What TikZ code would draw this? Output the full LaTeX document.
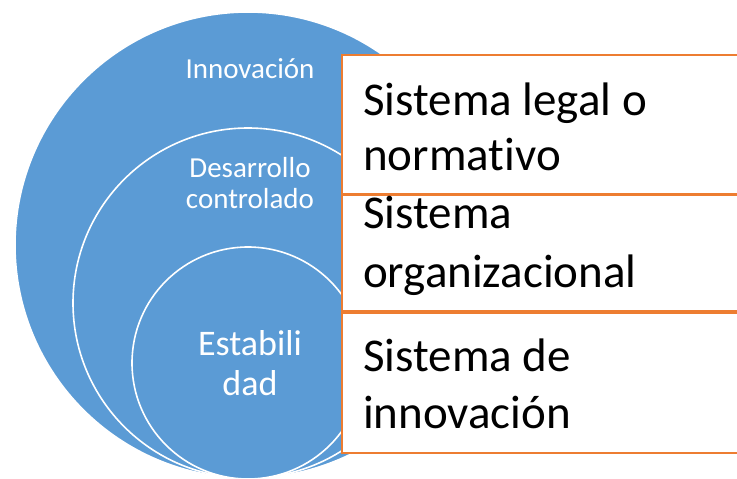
\documentclass[tikz,border=0pt]{standalone}
\usepackage{fontspec}
\setmainfont{Carlito}[Ligatures={NoCommon}]
\definecolor{ringblue}{HTML}{5B9BD5}
\definecolor{boxorange}{HTML}{ED7D31}
\tikzset{
  ring/.style={fill=ringblue,draw=white,line width=1.6pt},
  sysbox/.style={fill=white,draw=boxorange,line width=2pt},
  ringtext/.style={text=white,inner sep=0pt,anchor=base},
  boxtext/.style={inner sep=0pt,anchor=base west,font=\fontsize{47}{55}\selectfont}
}
\begin{document}
\begin{tikzpicture}[x=1pt,y=-1pt]
    \clip (0,0) rectangle (737,479);
    \fill[white] (0,0) rectangle (737,479);

    % circles
    \draw[ring] (248,245) circle (233);
    \draw[ring] (248,303) circle (175);
    \draw[ring] (248,363) circle (116);

    \node[ringtext,font=\fontsize{29}{31}\selectfont] (innov) at (250,78) {Innovación};
    \node[ringtext,font=\fontsize{29}{31}\selectfont] (desa) at (250,177) {Desarrollo};
    \node[ringtext,font=\fontsize{29}{31}\selectfont] (contr) at (250,208) {controlado};
    \node[ringtext,font=\fontsize{36}{40}\selectfont] (estab) at (250,355) {Estabili};
    \node[ringtext,font=\fontsize{36}{40}\selectfont] (dad) at (250,395) {dad};

    % boxes
    \draw[sysbox] (342,55) rectangle (760,194);
    \draw[sysbox] (342,195) rectangle (760,311);
    \draw[sysbox] (342,313) rectangle (760,453);

    \node[boxtext] (legal) at (363,115) {Sistema legal o};
    \node[boxtext] (norma) at (363,170) {normativo};
    \node[boxtext] (sist) at (363,228) {Sistema};
    \node[boxtext] (organ) at (363,287) {organizacional};
    \node[boxtext] (sistde) at (363,371) {Sistema de};
    \node[boxtext] (innovs) at (363,428) {innovación};
\end{tikzpicture}
\end{document}
